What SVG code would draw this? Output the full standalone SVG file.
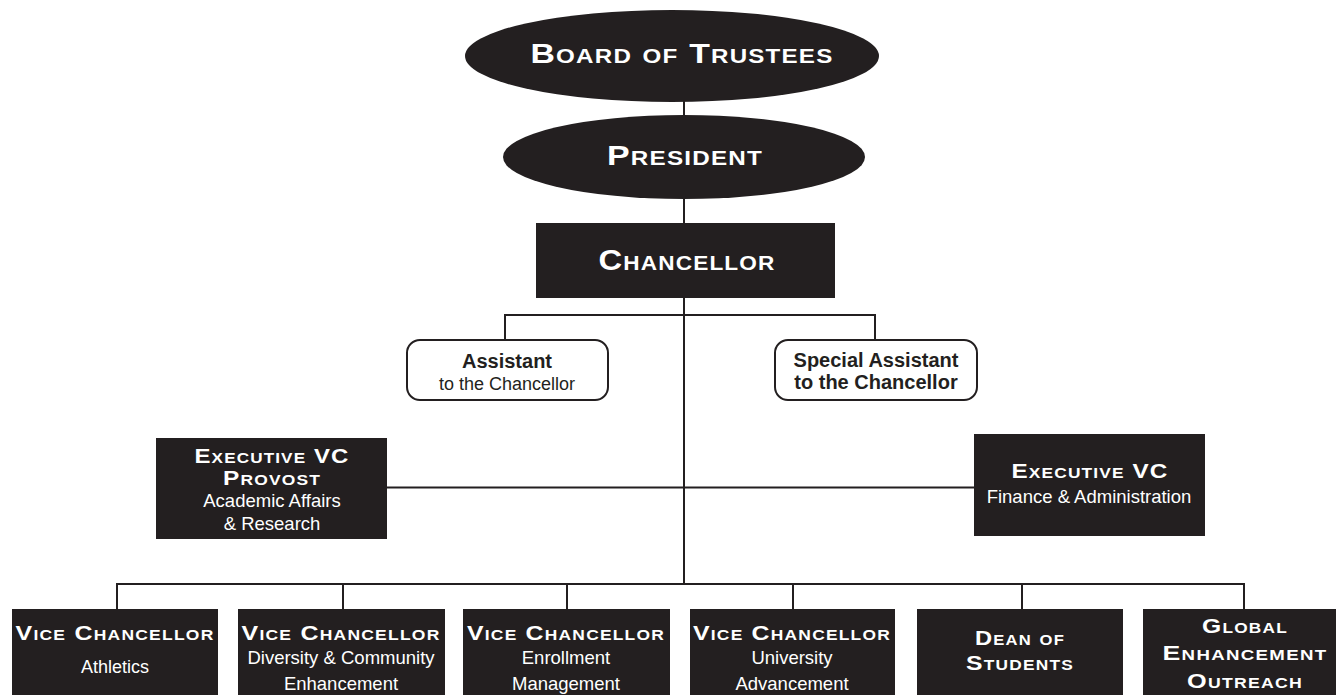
<svg xmlns="http://www.w3.org/2000/svg" width="1336" height="695" viewBox="0 0 1336 695">
<style>
.dark{fill:#231f20}
.rbox{fill:#fff;stroke:#231f20;stroke-width:2}
.sc{font-family:"Liberation Sans",Arial,sans-serif;font-weight:bold;font-variant:small-caps;fill:#fff;text-anchor:middle;letter-spacing:1px}
.t{font-family:"Liberation Sans",Arial,sans-serif;fill:#fff;text-anchor:middle}
.bk{font-family:"Liberation Sans",Arial,sans-serif;fill:#231f20;text-anchor:middle}
.conn{stroke:#231f20;stroke-width:2;fill:none}
</style>
<rect width="1336" height="695" fill="#fff"/>
<g id="connectors" class="conn">
<line x1="684" y1="100" x2="684" y2="117"/>
<line x1="684" y1="197" x2="684" y2="224"/>
<line x1="684" y1="297" x2="684" y2="585"/>
<polyline points="505,341 505,315 875,315 875,341"/>
<line x1="386" y1="487.5" x2="975" y2="487.5"/>
<polyline points="117,610 117,584 1244,584 1244,610"/>
<line x1="343" y1="584" x2="343" y2="610"/>
<line x1="567" y1="584" x2="567" y2="610"/>
<line x1="793" y1="584" x2="793" y2="610"/>
<line x1="1022" y1="584" x2="1022" y2="610"/>
</g>
<g id="board">
<ellipse class="dark" cx="672" cy="56" rx="207" ry="46"/>
<text class="sc" x="682" y="63" font-size="28" textLength="303" lengthAdjust="spacingAndGlyphs">Board of Trustees</text>
</g>
<g id="president">
<ellipse class="dark" cx="684" cy="157" rx="181" ry="42"/>
<text class="sc" x="685" y="165" font-size="28" textLength="156" lengthAdjust="spacingAndGlyphs">President</text>
</g>
<g id="chancellor">
<rect class="dark" x="536" y="223" width="299" height="75"/>
<text class="sc" x="687" y="270" font-size="29" textLength="177" lengthAdjust="spacingAndGlyphs">Chancellor</text>
</g>
<g id="assistant">
<rect class="rbox" x="407" y="340" width="201" height="60" rx="13"/>
<text class="bk" x="507" y="368" font-size="20" font-weight="bold">Assistant</text>
<text class="bk" x="507" y="390" font-size="18">to the Chancellor</text>
</g>
<g id="special-assistant">
<rect class="rbox" x="775" y="340" width="202" height="60" rx="13"/>
<text class="bk" x="876" y="367" font-size="20" font-weight="bold">Special Assistant</text>
<text class="bk" x="876" y="389" font-size="20" font-weight="bold">to the Chancellor</text>
</g>
<g id="evc-provost">
<rect class="dark" x="156" y="438" width="231" height="101"/>
<text class="sc" x="272" y="463" font-size="21" textLength="155" lengthAdjust="spacingAndGlyphs">Executive VC</text>
<text class="sc" x="272" y="485" font-size="21" textLength="98" lengthAdjust="spacingAndGlyphs">Provost</text>
<text class="t" x="272" y="507" font-size="18.5">Academic Affairs</text>
<text class="t" x="272" y="530" font-size="18.5">&amp; Research</text>
</g>
<g id="evc-finance">
<rect class="dark" x="974" y="434" width="231" height="102"/>
<text class="sc" x="1090" y="478" font-size="21" textLength="157" lengthAdjust="spacingAndGlyphs">Executive VC</text>
<text class="t" x="1089" y="503" font-size="18.5">Finance &amp; Administration</text>
</g>
<g id="vc-athletics">
<rect class="dark" x="12" y="609" width="206" height="90"/>
<text class="sc" x="115" y="640" font-size="20" textLength="199" lengthAdjust="spacingAndGlyphs">Vice Chancellor</text>
<text class="t" x="115" y="673" font-size="18">Athletics</text>
</g>
<g id="vc-diversity">
<rect class="dark" x="238" y="609" width="207" height="90"/>
<text class="sc" x="341" y="640" font-size="20" textLength="199" lengthAdjust="spacingAndGlyphs">Vice Chancellor</text>
<text class="t" x="341" y="664" font-size="18.5">Diversity &amp; Community</text>
<text class="t" x="341" y="690" font-size="18.5">Enhancement</text>
</g>
<g id="vc-enrollment">
<rect class="dark" x="463" y="609" width="207" height="90"/>
<text class="sc" x="566" y="640" font-size="20" textLength="198" lengthAdjust="spacingAndGlyphs">Vice Chancellor</text>
<text class="t" x="566" y="664" font-size="18.5">Enrollment</text>
<text class="t" x="566" y="690" font-size="18.5">Management</text>
</g>
<g id="vc-advancement">
<rect class="dark" x="690" y="609" width="205" height="90"/>
<text class="sc" x="792" y="640" font-size="20" textLength="198" lengthAdjust="spacingAndGlyphs">Vice Chancellor</text>
<text class="t" x="792" y="664" font-size="18.5">University</text>
<text class="t" x="792" y="690" font-size="18.5">Advancement</text>
</g>
<g id="dean-of-students">
<rect class="dark" x="917" y="609" width="206" height="90"/>
<text class="sc" x="1020" y="645" font-size="20" textLength="90" lengthAdjust="spacingAndGlyphs">Dean of</text>
<text class="sc" x="1020" y="670" font-size="20" textLength="108" lengthAdjust="spacingAndGlyphs">Students</text>
</g>
<g id="global-enhancement">
<rect class="dark" x="1143" y="609" width="205" height="90"/>
<text class="sc" x="1245" y="633" font-size="20" textLength="86" lengthAdjust="spacingAndGlyphs">Global</text>
<text class="sc" x="1245" y="660" font-size="20" textLength="165" lengthAdjust="spacingAndGlyphs">Enhancement</text>
<text class="sc" x="1245" y="688" font-size="20" textLength="116" lengthAdjust="spacingAndGlyphs">Outreach</text>
</g>
</svg>
